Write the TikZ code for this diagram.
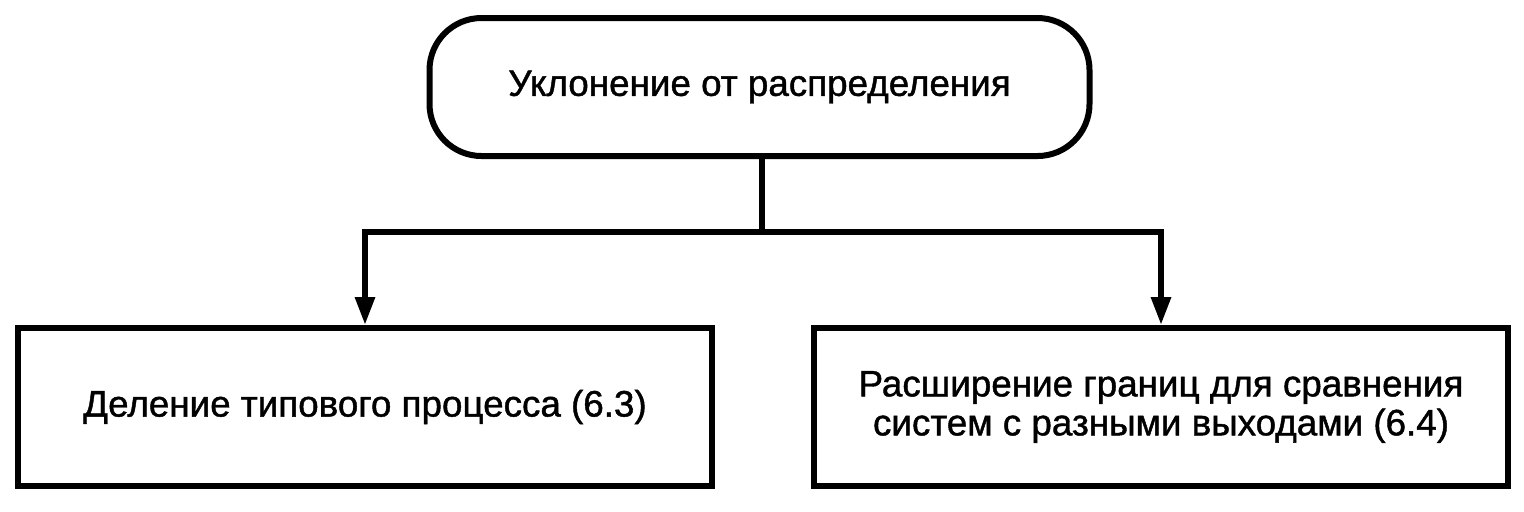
\documentclass[tikz,border=0pt]{standalone}
\usepackage{fontspec}
\setmainfont{Liberation Sans}[FakeBold=1.2]
\usetikzlibrary{arrows.meta}
\begin{document}
\begin{tikzpicture}[x=0.5pt,y=-0.5pt,
    box/.style={draw,line width=3pt,minimum width=347pt,minimum height=79pt,
        align=center,font=\fontsize{18.4}{19.5}\selectfont},
    topbox/.style={box,rounded corners=26pt,minimum width=330pt,minimum height=69pt},
    link/.style={line width=3pt},
    tip/.style={link,-{Triangle[length=14pt,width=9.5pt]}}]
\useasboundingbox (0,0) rectangle (1524,511);

\node[topbox] (dev) at (759.5,87) {Уклонение от распределения};
\node[box] (split) at (365,407) {Деление типового процесса (6.3)};
\node[box] (widen) at (1161,407) {Расширение границ для сравнения\\систем с разными выходами (6.4)};

\coordinate (fork) at (762,232);
\draw[link] (dev.south -| fork) -- (fork);
\draw[tip] (fork) -| (split.north);
\draw[tip] (fork) -| (widen.north);
\end{tikzpicture}
\end{document}
